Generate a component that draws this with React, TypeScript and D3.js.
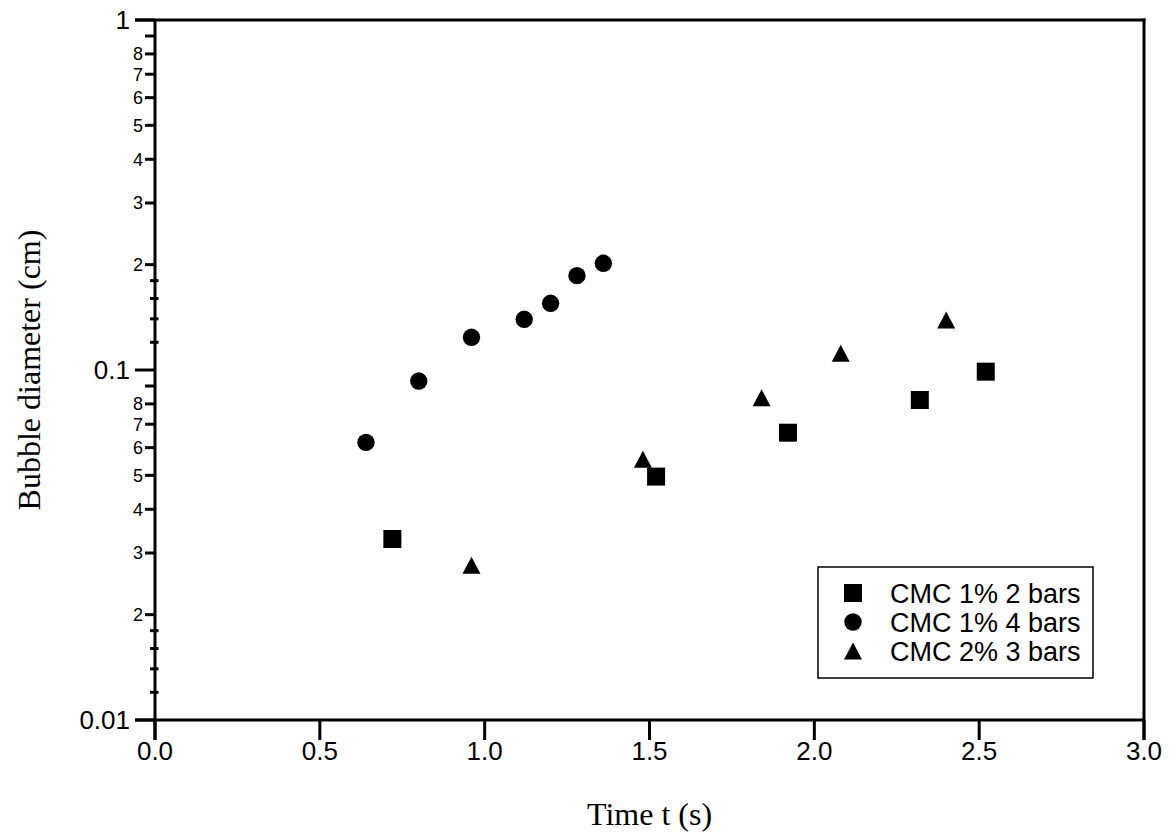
import React from "react";
import * as d3 from "d3";

// ---- data ----
const squareX = [0.72, 1.52, 1.92, 2.32, 2.52];
const squareY = [0.0329, 0.0496, 0.0662, 0.0821, 0.0989];
const circleX = [0.64, 0.8, 0.96, 1.12, 1.2, 1.28, 1.36];
const circleY = [0.0621, 0.093, 0.124, 0.1396, 0.1551, 0.186, 0.2018];
const triangleX = [0.96, 1.48, 1.84, 2.08, 2.4];
const triangleY = [0.0277, 0.0556, 0.0833, 0.1116, 0.139];

const seriesNames = ["CMC 1% 2 bars", "CMC 1% 4 bars", "CMC 2% 3 bars"];
const xTicks = [0, 0.5, 1, 1.5, 2, 2.5, 3];
const yMajorTicks = [0.01, 0.1, 1];
const yMajorLabels = ["0.01", "0.1", "1"];
const yMinorMult = [2, 3, 4, 5, 6, 7, 8];
const yNineMult = [9];
const yShortMult = [1.2, 1.4, 1.6, 1.8];
const decades = [0.01, 0.1];

const W = 1171;
const H = 837;
const left = 155;
const right = 1144;
const top = 20;
const bottom = 720;

const x = d3.scaleLinear().domain([0, 3]).range([left, right]);
const y = d3.scaleLog().domain([0.01, 1]).range([bottom, top]);

const sans = "'Liberation Sans', Arial, Helvetica, sans-serif";
const serif = "'Liberation Serif', 'Times New Roman', Times, serif";

function squarePath(cx: number, cy: number, s: number) {
  const h = s / 2;
  return `M${cx - h},${cy - h}H${cx + h}V${cy + h}H${cx - h}Z`;
}
function trianglePath(cx: number, cy: number, w: number, h: number) {
  return `M${cx},${cy - h / 2}L${cx + w / 2},${cy + h / 2}L${cx - w / 2},${cy + h / 2}Z`;
}

export default function App() {
  const lw = 3;
  const minorLabeled = decades.flatMap((d) => yMinorMult.map((m) => ({ v: d * m, m })));
  const nines = decades.flatMap((d) => yNineMult.map((m) => d * m));
  const shorts = decades.flatMap((d) => yShortMult.map((m) => d * m));

  const legX = 818;
  const legY = 567;
  const legW = 275;
  const legH = 111;
  const rowY = [593, 622, 651];
  const markX = 853;
  const textX = 890;

  const drawMarker = (k: number, cx: number, cy: number, key: string) => {
    if (k === 0) return <path key={key} d={squarePath(cx, cy, 18)} fill="#000" />;
    if (k === 1) return <circle key={key} cx={cx} cy={cy} r={8.7} fill="#000" />;
    return <path key={key} d={trianglePath(cx, cy, 18, 17)} fill="#000" />;
  };

  return (
    <svg
      width={W}
      height={H}
      style={{ position: "absolute", left: 0, top: 0, background: "#fff" }}
    >
      <rect x={0} y={0} width={W} height={H} fill="#fff" />
      {/* frame */}
      <line x1={left} y1={top} x2={left} y2={bottom + 20} stroke="#000" strokeWidth={lw} />
      <line x1={right} y1={top - lw / 2} x2={right} y2={bottom + 20} stroke="#000" strokeWidth={lw} />
      <line x1={left - 20} y1={top} x2={right + lw / 2} y2={top} stroke="#000" strokeWidth={lw} />
      <line x1={left - 20} y1={bottom} x2={right} y2={bottom} stroke="#000" strokeWidth={lw} />

      {/* x ticks */}
      {xTicks.map((t) => (
        <g key={"xt" + t}>
          <line x1={x(t)} y1={bottom} x2={x(t)} y2={bottom + 20} stroke="#000" strokeWidth={lw} />
          <text x={x(t)} y={760} textAnchor="middle" fontFamily={sans} fontSize={26}>
            {d3.format(".1f")(t)}
          </text>
        </g>
      ))}

      {/* y major ticks */}
      {yMajorTicks.map((t, i) => (
        <g key={"ym" + t}>
          <line x1={left - 20} y1={y(t)} x2={left} y2={y(t)} stroke="#000" strokeWidth={lw} />
          <text x={130} y={y(t)} dy="0.36em" textAnchor="end" fontFamily={sans} fontSize={26}>
            {yMajorLabels[i]}
          </text>
        </g>
      ))}

      {/* y minor labeled ticks */}
      {minorLabeled.map((d) => (
        <g key={"yl" + d.v}>
          <line x1={left - 10} y1={y(d.v)} x2={left} y2={y(d.v)} stroke="#000" strokeWidth={lw} />
          <text x={143} y={y(d.v)} dy="0.36em" textAnchor="end" fontFamily={sans} fontSize={18}>
            {d.m}
          </text>
        </g>
      ))}
      {nines.map((v) => (
        <line key={"y9" + v} x1={left - 10} y1={y(v)} x2={left} y2={y(v)} stroke="#000" strokeWidth={lw} />
      ))}
      {shorts.map((v) => (
        <line key={"ys" + v} x1={left - 5} y1={y(v)} x2={left + 3.5} y2={y(v)} stroke="#000" strokeWidth={lw} />
      ))}

      {/* data */}
      {squareX.map((v, i) => drawMarker(0, x(v), y(squareY[i]), "s" + i))}
      {circleX.map((v, i) => drawMarker(1, x(v), y(circleY[i]), "c" + i))}
      {triangleX.map((v, i) => drawMarker(2, x(v), y(triangleY[i]), "t" + i))}

      {/* legend */}
      <rect x={legX} y={legY} width={legW} height={legH} fill="#fff" stroke="#000" strokeWidth={1.5} />
      {seriesNames.map((n, i) => (
        <g key={"lg" + i}>
          {drawMarker(i, markX, rowY[i], "lm" + i)}
          <text x={textX} y={rowY[i]} dy="0.36em" fontFamily={sans} fontSize={27}>
            {n}
          </text>
        </g>
      ))}

      {/* axis titles */}
      <text x={(left + right) / 2} y={825} textAnchor="middle" fontFamily={serif} fontSize={32}>
        Time t (s)
      </text>
      <text
        transform={`translate(40, 370) rotate(-90)`}
        textAnchor="middle"
        fontFamily={serif}
        fontSize={32}
      >
        Bubble diameter (cm)
      </text>
    </svg>
  );
}
